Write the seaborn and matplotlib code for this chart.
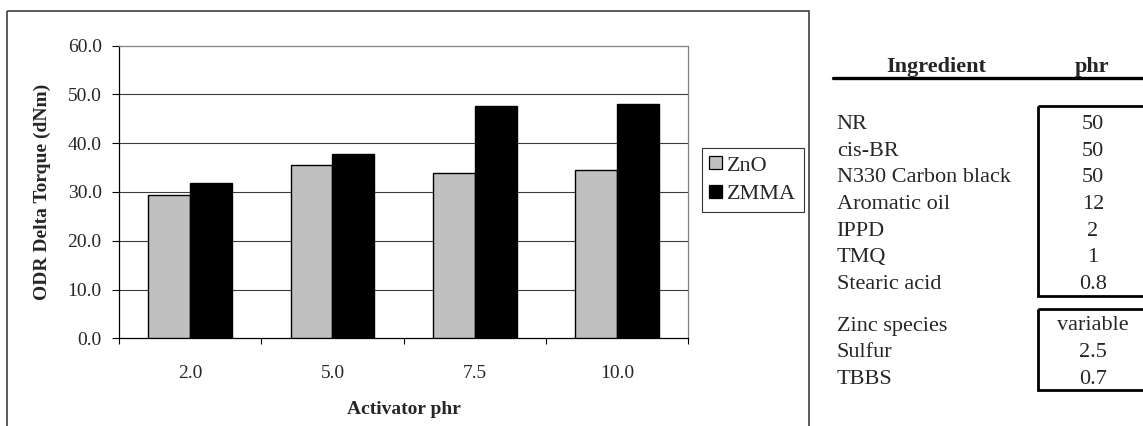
import matplotlib
matplotlib.use("Agg")
import numpy as np
import pandas as pd
import matplotlib.pyplot as plt
import seaborn as sns
from matplotlib.patches import Rectangle
from matplotlib.lines import Line2D
from matplotlib.transforms import Affine2D

# ---- chart data -------------------------------------------------------
activator_phr = ["2.0", "5.0", "7.5", "10.0"]
zno_torque = [29.4, 35.5, 33.9, 34.5]
zmma_torque = [31.9, 37.7, 47.7, 48.1]
series_names = ["ZnO", "ZMMA"]
series_colors = ["#C0C0C0", "#000000"]
y_ticks = [0, 10, 20, 30, 40, 50, 60]

# ---- formulation table ------------------------------------------------
table_header = ["Ingredient", "phr"]
ingredients_base = ["NR", "cis-BR", "N330 Carbon black", "Aromatic oil",
                    "IPPD", "TMQ", "Stearic acid"]
phr_base = ["50", "50", "50", "12", "2", "1", "0.8"]
ingredients_cure = ["Zinc species", "Sulfur", "TBBS"]
phr_cure = ["variable", "2.5", "0.7"]

W, H = 1143, 426
sns.set_theme(style="white")
plt.rcParams["font.family"] = ["Liberation Serif", "DejaVu Serif"]

fig = plt.figure(figsize=(W / 100, H / 100), dpi=100)
fig.patch.set_facecolor("white")

# pixel-style coordinates (origin top-left) for the free-standing pieces
px = Affine2D().scale(1.0 / W, -1.0 / H).translate(0, 1) + fig.transFigure

# outer chart frame
fig.add_artist(Rectangle((7.3, 10.7), 802.0, 430.0, transform=px,
                         fill=False, edgecolor="#404040", linewidth=1.2))

ax_left, ax_right, ax_top, ax_bottom = 119.0, 688.3, 45.7, 338.3
ax = fig.add_axes([ax_left / W, 1 - ax_bottom / H,
                   (ax_right - ax_left) / W, (ax_bottom - ax_top) / H])

df = pd.DataFrame({
    "Activator phr": activator_phr * 2,
    "Torque": zno_torque + zmma_torque,
    "Activator": [series_names[0]] * len(activator_phr)
                 + [series_names[1]] * len(activator_phr),
})

sns.barplot(data=df, x="Activator phr", y="Torque", hue="Activator",
            order=activator_phr, hue_order=series_names,
            palette=series_colors, width=0.59, errorbar=None,
            edgecolor="black", linewidth=1.0, legend=False, ax=ax, zorder=3)

ax.set_xlim(-0.5, len(activator_phr) - 0.5)
ax.set_ylim(y_ticks[0], y_ticks[-1])
ax.set_facecolor("white")

# horizontal gridlines
for v in y_ticks[1:-1]:
    ax.axhline(v, color="#3c3c3c", linewidth=0.8, zorder=1)

# y axis
ax.set_yticks(y_ticks)
ax.set_yticklabels([f"{v:.1f}" for v in y_ticks])
ax.tick_params(axis="y", which="major", direction="out", length=5.3,
               width=0.8, color="black", pad=7.2, labelsize=14, left=True)

# x axis: tick marks at category boundaries, labels at category centres
ax.set_xticks(np.arange(-0.5, len(activator_phr), 1.0))
ax.set_xticklabels([])
ax.set_xticks(np.arange(len(activator_phr)), minor=True)
ax.set_xticklabels(activator_phr, minor=True)
ax.tick_params(axis="x", which="major", direction="out", length=4,
               width=0.8, color="black", bottom=True)
ax.tick_params(axis="x", which="minor", length=0, pad=19, labelsize=14)

for side in ["left", "bottom"]:
    ax.spines[side].set_color("black")
    ax.spines[side].set_linewidth(0.9)
for side in ["top", "right"]:
    ax.spines[side].set_color("#808080")
    ax.spines[side].set_linewidth(0.9)
    ax.spines[side].set_visible(True)

ax.set_xlabel("Activator phr", fontsize=14, fontweight="bold", va="center")
ax.xaxis.set_label_coords(0.5, (ax_bottom - 410) / (ax_bottom - ax_top))
ax.set_ylabel("ODR Delta Torque (dNm)", fontsize=14, fontweight="bold",
              va="center")
ax.yaxis.set_label_coords((42.5 - ax_left) / (ax_right - ax_left), 0.5)

# legend
handles = [Rectangle((0, 0), 1, 1, facecolor=c, edgecolor="black",
                     linewidth=0.9) for c in series_colors]
leg = fig.legend(handles, series_names, loc="upper left",
                 bbox_to_anchor=(701.7 / W, 1 - 148.3 / H),
                 bbox_transform=fig.transFigure, borderaxespad=0,
                 fontsize=16, frameon=True, fancybox=False, shadow=False,
                 handlelength=0.55, handleheight=0.55, handletextpad=0.25,
                 labelspacing=0.4, borderpad=0.35)
leg.get_frame().set_edgecolor("black")
leg.get_frame().set_linewidth(0.8)
leg.get_frame().set_facecolor("white")

# ---- formulation table ------------------------------------------------
tfs = 16
cap_half = 7.2
name_x, value_x = 836.7, 1093.0
fig.text(936.0, 65.0 + cap_half, table_header[0], transform=px, ha="center",
         va="baseline", fontsize=tfs, fontweight="bold")
fig.text(1092.0, 65.0 + cap_half, table_header[1], transform=px, ha="center",
         va="baseline", fontsize=tfs, fontweight="bold")
fig.add_artist(Line2D([832.7, 1150], [78.3, 78.3], transform=px,
                      color="black", linewidth=2.4))

row_step = 26.67
for i, (name, val) in enumerate(zip(ingredients_base, phr_base)):
    y = 121.7 + i * row_step + cap_half
    fig.text(name_x, y, name, transform=px, ha="left", va="baseline",
             fontsize=tfs)
    fig.text(value_x, y, val, transform=px, ha="center", va="baseline",
             fontsize=tfs)
for i, (name, val) in enumerate(zip(ingredients_cure, phr_cure)):
    y = 323.3 + i * row_step + cap_half
    fig.text(name_x, y, name, transform=px, ha="left", va="baseline",
             fontsize=tfs)
    fig.text(value_x, y, val, transform=px, ha="center", va="baseline",
             fontsize=tfs)

fig.add_artist(Rectangle((1038.0, 105.7), 110.0, 189.8, transform=px,
                         fill=False, edgecolor="black", linewidth=2.0))
fig.add_artist(Rectangle((1037.5, 309.3), 110.0, 80.7, transform=px,
                         fill=False, edgecolor="black", linewidth=2.0))

fig.savefig("out.png", dpi=100, facecolor="white")
